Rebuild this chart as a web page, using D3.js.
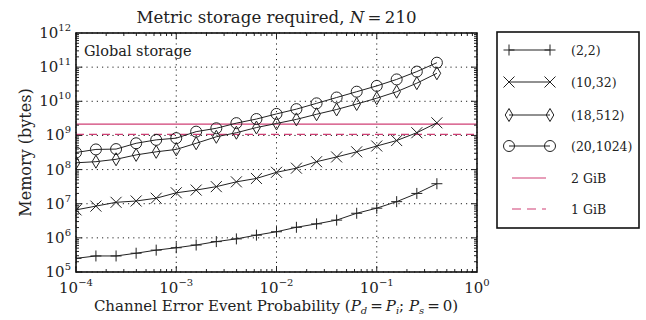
<!DOCTYPE html>
<html lang="en">
<head>
<meta charset="UTF-8">
<title>Metric storage required</title>
<script src="https://cdnjs.cloudflare.com/ajax/libs/d3/7.8.5/d3.min.js"></script>
<style>
    body { margin: 0; background: #fff; }
    svg { font-family: "DejaVu Serif", serif; }
</style>
</head>
<body>
<svg id="chart" width="646" height="320"></svg>
<script>
// error event probability (x) and memory in bytes for each (k, states) config
const probability = [1.0e-4, 1.58e-4, 2.51e-4, 3.98e-4, 6.31e-4, 1.0e-3, 1.58e-3, 2.51e-3, 3.98e-3, 6.31e-3,
                     1.0e-2, 1.58e-2, 2.51e-2, 3.98e-2, 6.31e-2, 0.1, 0.158, 0.251, 0.398];
const mem_2_2 = [2.51e5, 2.95e5, 2.95e5, 3.55e5, 4.37e5, 5.13e5, 6.17e5, 7.76e5, 9.33e5, 1.20e6,
                 1.51e6, 2.04e6, 2.57e6, 3.31e6, 5.25e6, 7.41e6, 1.15e7, 2.0e7, 3.85e7];
const mem_10_32 = [6.6e6, 8.5e6, 1.10e7, 1.20e7, 1.45e7, 2.09e7, 2.51e7, 3.16e7, 4.37e7, 5.50e7,
                   8.32e7, 1.10e8, 1.70e8, 2.34e8, 3.31e8, 4.90e8, 7.08e8, 1.20e9, 2.34e9];
const mem_18_512 = [1.58e8, 1.70e8, 2.0e8, 2.69e8, 3.31e8, 3.89e8, 5.89e8, 9.12e8, 1.20e9, 1.70e9,
                    2.24e9, 2.95e9, 4.17e9, 5.75e9, 8.32e9, 1.23e10, 1.91e10, 3.39e10, 6.61e10];
const mem_20_1024 = [3.16e8, 3.89e8, 3.98e8, 5.89e8, 7.41e8, 8.32e8, 1.29e9, 1.62e9, 2.29e9, 3.02e9,
                     4.27e9, 5.89e9, 8.71e9, 1.29e10, 1.91e10, 2.82e10, 4.37e10, 7.41e10, 1.35e11];
const seriesNames = ["(2,2)", "(10,32)", "(18,512)", "(20,1024)"];
const seriesMarkers = ["plus", "cross", "diamond", "circle"];
const limitNames = ["2 GiB", "1 GiB"];
const limitValues = [2147483648, 1073741824];
const xTickExp = [-4, -3, -2, -1, 0];
const yTickExp = [5, 6, 7, 8, 9, 10, 11, 12];

const svg = d3.select("#chart");
const pLeft = 76, pRight = 477, pTop = 33, pBottom = 272;
const pink = "#cf3f74";

const x = d3.scaleLog().domain([1e-4, 1]).range([pLeft, pRight]);
const y = d3.scaleLog().domain([1e5, 1e12]).range([pBottom, pTop]);

// grid
svg.append("g").selectAll("line").data(xTickExp).join("line")
    .attr("x1", d => x(Math.pow(10, d))).attr("x2", d => x(Math.pow(10, d)))
    .attr("y1", pTop).attr("y2", pBottom)
    .attr("stroke", "#222").attr("stroke-width", 1).attr("stroke-dasharray", "1.2,4");
svg.append("g").selectAll("line").data(yTickExp).join("line")
    .attr("y1", d => y(Math.pow(10, d))).attr("y2", d => y(Math.pow(10, d)))
    .attr("x1", pLeft).attr("x2", pRight)
    .attr("stroke", "#222").attr("stroke-width", 1).attr("stroke-dasharray", "1.2,4");

svg.append("clipPath").attr("id", "clip").append("rect")
    .attr("x", pLeft).attr("y", pTop).attr("width", pRight - pLeft).attr("height", pBottom - pTop);
const plot = svg.append("g").attr("clip-path", "url(#clip)");

// GiB limit lines
plot.selectAll(".limit").data(limitValues).join("line")
    .attr("x1", pLeft).attr("x2", pRight)
    .attr("y1", d => y(d)).attr("y2", d => y(d))
    .attr("stroke", pink).attr("stroke-width", 1.1)
    .attr("stroke-dasharray", (d, i) => i === 1 ? "8,5" : null);

function drawMarker(g, type, cx, cy) {
    const s = 5.5;
    if (type === "circle") {
        g.append("circle").attr("cx", cx).attr("cy", cy).attr("r", 5.5)
            .attr("fill", "none").attr("stroke", "#222").attr("stroke-width", 1);
    } else if (type === "diamond") {
        g.append("path").attr("d", `M${cx},${cy - 6.5}L${cx + 3.8},${cy}L${cx},${cy + 6.5}L${cx - 3.8},${cy}Z`)
            .attr("fill", "none").attr("stroke", "#222").attr("stroke-width", 1);
    } else if (type === "cross") {
        g.append("path").attr("d", `M${cx - s},${cy - s}L${cx + s},${cy + s}M${cx - s},${cy + s}L${cx + s},${cy - s}`)
            .attr("stroke", "#222").attr("stroke-width", 1);
    } else {
        g.append("path").attr("d", `M${cx - s},${cy}L${cx + s},${cy}M${cx},${cy - s}L${cx},${cy + s}`)
            .attr("stroke", "#222").attr("stroke-width", 1);
    }
}

const allSeries = [mem_2_2, mem_10_32, mem_18_512, mem_20_1024];
const line = d3.line().x(d => x(d[0])).y(d => y(d[1]));
allSeries.forEach((vals, i) => {
    const pts = probability.map((p, j) => [p, vals[j]]);
    plot.append("path").datum(pts).attr("d", line)
        .attr("fill", "none").attr("stroke", "#222").attr("stroke-width", 1);
    const mg = plot.append("g");
    pts.forEach(p => drawMarker(mg, seriesMarkers[i], x(p[0]), y(p[1])));
});

// ticks (inward, all four sides)
const ticks = svg.append("g").attr("stroke", "#222").attr("stroke-width", 1);
for (let e = -4; e < 0; e++) {
    for (let m = 1; m <= 9; m++) {
        const v = m * Math.pow(10, e);
        const len = m === 1 ? 6 : 3;
        ticks.append("line").attr("x1", x(v)).attr("x2", x(v)).attr("y1", pBottom).attr("y2", pBottom - len);
        ticks.append("line").attr("x1", x(v)).attr("x2", x(v)).attr("y1", pTop).attr("y2", pTop + len);
    }
}
for (let e = 5; e < 12; e++) {
    for (let m = 1; m <= 9; m++) {
        const v = m * Math.pow(10, e);
        const len = m === 1 ? 6 : 3;
        ticks.append("line").attr("y1", y(v)).attr("y2", y(v)).attr("x1", pLeft).attr("x2", pLeft + len);
        ticks.append("line").attr("y1", y(v)).attr("y2", y(v)).attr("x1", pRight).attr("x2", pRight - len);
    }
}

// frame
svg.append("rect").attr("x", pLeft).attr("y", pTop).attr("width", pRight - pLeft).attr("height", pBottom - pTop)
    .attr("fill", "none").attr("stroke", "#111").attr("stroke-width", 1.6);

// tick labels
xTickExp.forEach(e => {
    const t = svg.append("text").attr("x", x(Math.pow(10, e))).attr("y", 293)
        .attr("text-anchor", "middle").attr("font-size", 15).attr("fill", "#222");
    t.append("tspan").text("10");
    t.append("tspan").attr("dy", -7).attr("font-size", 10).text(e < 0 ? "\u2212" + (-e) : e);
});
yTickExp.forEach(e => {
    const t = svg.append("text").attr("x", 71).attr("y", y(Math.pow(10, e)) + 5)
        .attr("text-anchor", "end").attr("font-size", 15).attr("fill", "#222");
    t.append("tspan").text("10");
    t.append("tspan").attr("dy", -7).attr("font-size", 10).text(e);
});

// title and labels
const title = svg.append("text").attr("x", (pLeft + pRight) / 2).attr("y", 23)
    .attr("text-anchor", "middle").attr("font-size", 16.6).attr("fill", "#222");
title.append("tspan").text("Metric storage required, ");
title.append("tspan").attr("font-style", "italic").text("N");
title.append("tspan").text("\u2009=\u2009210");

svg.append("text").attr("x", 84).attr("y", 56).attr("font-size", 14.5).attr("fill", "#222").text("Global storage");

svg.append("text").attr("transform", `translate(31,${(pTop + pBottom) / 2}) rotate(-90)`)
    .attr("text-anchor", "middle").attr("font-size", 16).attr("fill", "#222").text("Memory (bytes)");

const xl = svg.append("text").attr("x", 276).attr("y", 311)
    .attr("text-anchor", "middle").attr("font-size", 15).attr("fill", "#222");
xl.append("tspan").text("Channel Error Event Probability (");
xl.append("tspan").attr("font-style", "italic").text("P");
xl.append("tspan").attr("font-style", "italic").attr("font-size", 10).attr("dy", 3).text("d");
xl.append("tspan").attr("dy", -3).text("\u2009=\u2009");
xl.append("tspan").attr("font-style", "italic").text("P");
xl.append("tspan").attr("font-style", "italic").attr("font-size", 10).attr("dy", 3).text("i");
xl.append("tspan").attr("dy", -3).text("; ");
xl.append("tspan").attr("font-style", "italic").text("P");
xl.append("tspan").attr("font-style", "italic").attr("font-size", 10).attr("dy", 3).text("s");
xl.append("tspan").attr("dy", -3).text("\u2009=\u20090)");

// legend
const lg = svg.append("g");
lg.append("rect").attr("x", 497).attr("y", 32).attr("width", 142).attr("height", 196)
    .attr("fill", "#fff").attr("stroke", "#111").attr("stroke-width", 1.6);
const legendY = [50, 82, 115, 146, 178, 209];
seriesNames.forEach((name, i) => {
    const ly = legendY[i];
    lg.append("line").attr("x1", 509).attr("x2", 550).attr("y1", ly).attr("y2", ly)
        .attr("stroke", "#222").attr("stroke-width", 1);
    drawMarker(lg, seriesMarkers[i], 509, ly);
    drawMarker(lg, seriesMarkers[i], 550, ly);
    lg.append("text").attr("x", 571).attr("y", ly + 4.5).attr("font-size", 12.5).attr("fill", "#222").text(name);
});
limitNames.forEach((name, i) => {
    const ly = legendY[4 + i];
    lg.append("line").attr("x1", 512).attr("x2", 546).attr("y1", ly).attr("y2", ly)
        .attr("stroke", pink).attr("stroke-width", 1.1)
        .attr("stroke-dasharray", i === 1 ? "9,6" : null);
    lg.append("text").attr("x", 571).attr("y", ly + 4.5).attr("font-size", 12.5).attr("fill", "#222").text(name);
});
</script>
</body>
</html>
